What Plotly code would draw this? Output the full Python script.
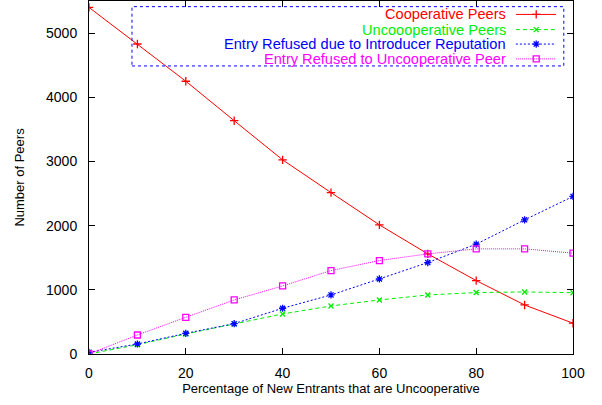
import plotly.graph_objects as go

pct = [0, 10, 20, 30, 40, 50, 60, 70, 80, 90, 100]
cooperative = [5400, 4830, 4250, 3635, 3025, 2515, 2012, 1560, 1144, 764, 480]
uncooperative = [0, 145, 312, 468, 624, 749, 842, 920, 957, 967, 955]
refused_introducer = [26, 156, 322, 473, 713, 920, 1170, 1425, 1711, 2090, 2455]
refused_uncoop = [0, 296, 572, 842, 1061, 1300, 1456, 1560, 1638, 1638, 1571]

names = ["Cooperative Peers", "Uncoooperative Peers",
         "Entry Refused due to Introducer Reputation",
         "Entry Refused to Uncooperative Peer"]
colors = ["#ff0000", "#00ee00", "#0000ff", "#ff00ff"]
dashes = ["solid", "4px,3px", "2px,2px", "1px,1px"]
symbols = ["cross-thin", "x-thin", "asterisk", "square-open"]
msizes = [6, 5, 6, 6]
series = [cooperative, uncooperative, refused_introducer, refused_uncoop]

FONT = "Liberation Sans, Arial, Helvetica, sans-serif"

fig = go.Figure()
for s, n, c, d, sym, ms in zip(series, names, colors, dashes, symbols, msizes):
    fig.add_trace(go.Scatter(
        x=pct, y=s, mode="lines+markers", name=n, showlegend=False,
        line=dict(color=c, width=1, dash=d),
        marker=dict(symbol=sym, size=ms, color=c, line=dict(color=c, width=1.3)),
    ))

# custom gnuplot-style legend (text right-aligned, sample on the right)
row_y = [0.962, 0.919, 0.878, 0.836]
for n, c, d, sym, ms, yy in zip(names, colors, dashes, symbols, msizes, row_y):
    fig.add_trace(go.Scatter(
        x=[0.882, 0.965], y=[yy, yy], xaxis="x2", yaxis="y2", mode="lines",
        line=dict(color=c, width=1, dash=d), showlegend=False, hoverinfo="skip"))
    fig.add_trace(go.Scatter(
        x=[0.924], y=[yy], xaxis="x2", yaxis="y2", mode="markers",
        marker=dict(symbol=sym, size=ms, color=c, line=dict(color=c, width=1.3)),
        showlegend=False, hoverinfo="skip"))
    fig.add_annotation(x=0.8636, y=yy, xref="paper", yref="paper",
                       text=n, showarrow=False, xanchor="right", yanchor="middle",
                       borderpad=0,
                       font=dict(color=c, size=14.6, family=FONT))

fig.add_shape(type="rect", xref="paper", yref="paper",
              x0=0.0888, x1=0.981, y0=0.816, y1=0.984,
              line=dict(color="#0000ff", width=1, dash="dot"))

fig.update_layout(
    width=602, height=405,
    margin=dict(l=89, r=29, t=1, b=51),
    paper_bgcolor="white", plot_bgcolor="white",
    font=dict(family=FONT, size=14, color="black"),
    xaxis=dict(range=[0, 100], tickvals=[0, 20, 40, 60, 80, 100],
               showline=True, linecolor="black", linewidth=1, mirror="ticks",
               ticks="inside", ticklen=6, tickcolor="black", showgrid=False,
               zeroline=False, ticklabelstandoff=6,
               title=dict(text="Percentage of New Entrants that are Uncooperative",
                          standoff=4, font=dict(size=13))),
    yaxis=dict(range=[0, 5500], tickvals=[0, 1000, 2000, 3000, 4000, 5000],
               showline=True, linecolor="black", linewidth=1, mirror="ticks",
               ticks="inside", ticklen=6, tickcolor="black", showgrid=False,
               zeroline=False, ticklabelstandoff=8,
               title=dict(text="Number of Peers", standoff=18, font=dict(size=13))),
    xaxis2=dict(range=[0, 1], overlaying="x", anchor="y2", visible=False),
    yaxis2=dict(range=[0, 1], overlaying="y", anchor="x2", visible=False),
)

fig.write_html("out.html")
